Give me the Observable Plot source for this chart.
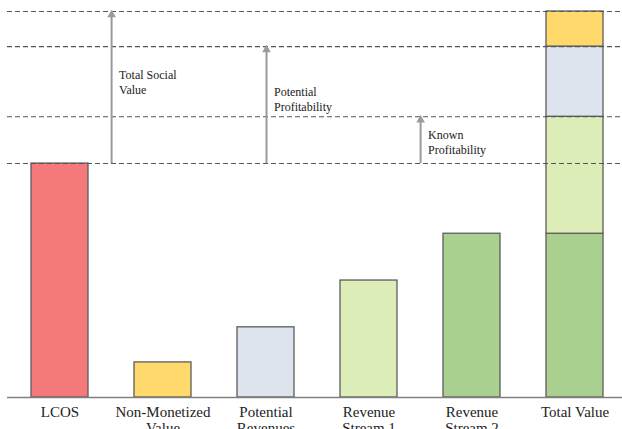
<!DOCTYPE html>
<html>
<head>
<meta charset="utf-8">
<script src="https://cdn.jsdelivr.net/npm/d3@7"></script>
<script src="https://cdn.jsdelivr.net/npm/@observablehq/plot@0.6"></script>
<style>
  html, body { margin: 0; padding: 0; background: #fff; }
  svg { display: block; }
  #chart svg, #chart svg text { font-family: "Liberation Serif", "Times New Roman", serif !important; }
</style>
</head>
<body>
<div id="chart"></div>
<script>
// ---- data ----
const categories = ["LCOS", "Non-Monetized Value", "Potential Revenues", "Revenue Stream 1", "Revenue Stream 2", "Total Value"];
const tickLabels = ["LCOS", "Non-Monetized\nValue", "Potential\nRevenues", "Revenue\nStream 1", "Revenue\nStream 2", "Total Value"];
const barValues = [100, 15, 30, 50, 70];            // first five bars
const stackOrder = ["Revenue Stream 2", "Revenue Stream 1", "Potential Revenues", "Non-Monetized Value"]; // bottom -> top in Total Value
const colors = {
  "LCOS": "#F4797A",
  "Non-Monetized Value": "#FFD96B",
  "Potential Revenues": "#DDE4EE",
  "Revenue Stream 1": "#DDEDB8",
  "Revenue Stream 2": "#A9D08F"
};
const annotationLabels = ["Total Social\nValue", "Potential\nProfitability", "Known\nProfitability"];

// ---- derived tables ----
const valueOf = Object.fromEntries(categories.slice(0, 5).map((c, i) => [c, barValues[i]]));
const bars = categories.slice(0, 5).map(c => ({cat: c, value: valueOf[c]}));
const stack = stackOrder.map(s => ({cat: "Total Value", part: s, value: valueOf[s]}));
const lcos = valueOf["LCOS"];
let cum = 0;
const cumTops = stackOrder.map(s => (cum += valueOf[s]));   // 70,120,150,165
const levels = [lcos, cumTops[1], cumTops[2], cumTops[3]];

const xRange = [10, 624];
const pInner = 0.45, pOuter = 0.2;
const step = (xRange[1] - xRange[0]) / (categories.length - pInner + 2 * pOuter);
// arrow placement relative to band centre: half a step = gap after the band
const arrows = [
  {x: "LCOS", off: step / 2, y1: lcos, y2: cumTops[3], label: annotationLabels[0], ty: 140.5},
  {x: "Potential Revenues", off: 0.5, y1: lcos, y2: cumTops[2], label: annotationLabels[1], ty: 133.3},
  {x: "Revenue Stream 1", off: step / 2, y1: lcos, y2: cumTops[1], label: annotationLabels[2], ty: 115.0}
];

const font = "'Liberation Serif', 'Times New Roman', serif";

const marks = [
  Plot.barY(bars, {x: "cat", y: "value", fill: d => colors[d.cat], stroke: "#5c5c5c", strokeWidth: 1.3}),
  Plot.barY(stack, {x: "cat", y: "value", fill: d => colors[d.part], stroke: "#5c5c5c", strokeWidth: 1.3, order: null}),
  Plot.ruleY([0], {stroke: "#808080", strokeWidth: 1.3}),
  Plot.ruleY(levels, {stroke: "#555", strokeWidth: 1.1, strokeDasharray: "5,3"})
];
for (const a of arrows) {
  marks.push(
    Plot.ruleX([a], {x: "x", y1: "y1", y2: d => d.y2 - 1.3, dx: a.off, stroke: "#9a9a9a", strokeWidth: 2}),
    Plot.dot([a], {x: "x", y: "y2", dx: a.off, dy: 3.2, symbol: "triangle", r: 3.2, fill: "#9a9a9a", stroke: "none"}),
    Plot.text([a], {x: "x", y: "ty", text: "label", dx: a.off + 7.5, textAnchor: "start", lineAnchor: "top", fontSize: 12, lineHeight: 1.25, fill: "#222", fontFamily: font})
  );
}
marks.push(
  Plot.axisX({domain: categories, tickSize: 0, tickPadding: 7, tickFormat: d => tickLabels[categories.indexOf(d)], fontSize: 15, lineHeight: 1.13, fill: "#222", label: null, fontFamily: font})
);

const chart = Plot.plot({
  width: 622,
  height: 429,
  marginTop: 11,
  marginBottom: 32,
  marginLeft: 7,
  marginRight: 0,
  style: {fontFamily: font, background: "#fff"},
  x: {domain: categories, range: xRange, paddingInner: pInner, paddingOuter: pOuter, axis: null},
  y: {domain: [0, cumTops[3]], axis: null},
  marks
});
document.getElementById("chart").appendChild(chart);
</script>
</body>
</html>
